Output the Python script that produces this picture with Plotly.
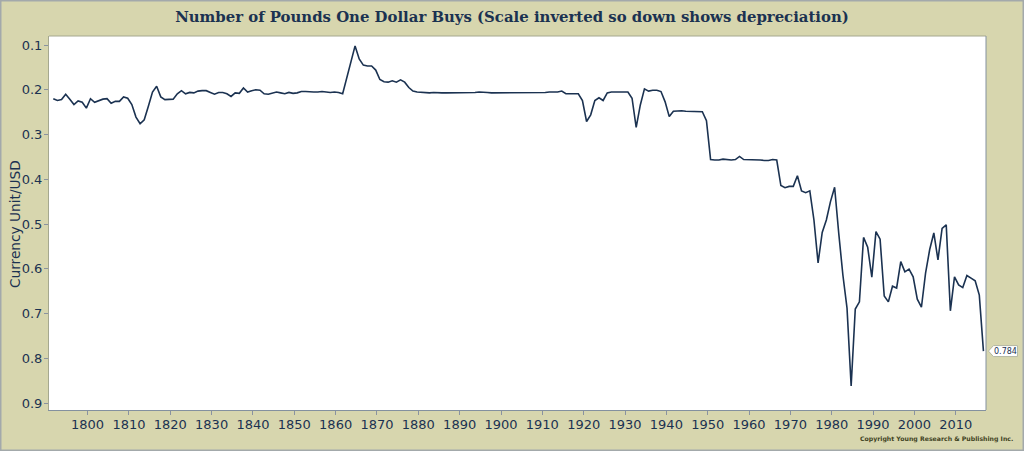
import plotly.graph_objects as go

years = list(range(1791, 2017))
values = [
    .220,.224,.222,.210,.221,.233,.225,.228,.241,
    .220,.228,.224,.221,.220,.230,.226,.226,.216,.219,.233,
    .261,.276,.267,.237,.205,.192,.216,.222,.222,.221,
    .209,.202,.209,.206,.207,.203,.202,.202,.206,.210,
    .206,.206,.209,.215,.207,.208,.196,.205,.202,.200,
    .201,.209,.210,.207,.205,.207,.209,.206,.208,.207,
    .204,.204,.205,.205,.205,.204,.205,.206,.205,.206,
    .209,.174,.137,.102,.131,.145,.147,.147,.156,.177,
    .182,.183,.180,.183,.178,.183,.195,.203,.205,.206,
    .206,.207,.206,.207,.207,.207,.207,.206,.206,.206,
    .207,.206,.206,.205,.205,.206,.207,.207,.206,.206,
    .206,.206,.207,.206,.206,.206,.206,.206,.206,.206,
    .205,.205,.205,.203,.209,.209,.209,.209,.224,.271,
    .256,.224,.218,.224,.207,.205,.205,.205,.205,.205,
    .219,.284,.234,.198,.203,.201,.201,.204,.227,.260,
    .248,.247,.247,.248,.248,.248,.248,.249,.269,
    .356,.357,.357,.355,.356,.357,.356,.349,.356,.356,
    .356,.356,.357,.358,.358,.356,.357,.414,.419,.416,.416,
    .392,.426,.430,.426,.491,.587,.519,.491,.450,.418,
    .521,.614,.688,.862,.690,.674,.530,.552,.619,.517,
    .534,.661,.674,.639,.643,.584,.607,.601,.618,.668,
    .686,.610,.557,.520,.580,.510,.502,.694,.618,.636,
    .642,.615,.621,.627,.659,.784,
]
assert len(years) == len(values), len(values)
year_offset = 0.7
x_ticks = list(range(1800, 2020, 10))
y_ticks = [0.1, 0.2, 0.3, 0.4, 0.5, 0.6, 0.7, 0.8, 0.9]
title_text = "Number of Pounds One Dollar Buys (Scale inverted so down shows depreciation)"
y_title = "Currency Unit/USD"
copyright_text = "Copyright Young Research & Publishing Inc."
NAVY = "#1b3251"
BG = "#d7d6ae"
FRAME = "#a3a9ab"
EDGE_BLUE = "#84919f"
EDGE_OLIVE = "#a5a88f"

W, H = 1024, 451
L, R, T, B = 49, 986, 36, 410
PW, PH = R - L, B - T
px = 4.134
x0 = 1800 - (87.6 - L) / px
x1 = 1800 + (R - 87.6) / px
y_top = 0.1 - (45 - T) / 447.5
y_bot = 0.1 + (B - 45) / 447.5


def fx(p):
    return (p - L) / PW


def fy(p):
    return (B - p) / PH


fig = go.Figure(go.Scatter(
    x=[y + year_offset for y in years], y=values, mode="lines",
    line=dict(color=NAVY, width=1.6), hoverinfo="skip"))

last_x = years[-1] + year_offset
last_y = values[-1]
anchor_x = (last_x - x0) / (x1 - x0)
anchor_y = (y_bot - last_y) / (y_bot - y_top)

fig.update_layout(
    width=W, height=H, autosize=False, showlegend=False,
    paper_bgcolor=BG, plot_bgcolor="white",
    margin=dict(l=L, r=W - R, t=T, b=H - B, autoexpand=False),
    font=dict(family="DejaVu Sans", color=NAVY),
    title=dict(text=f"<b>{title_text}</b>", x=0.5, xanchor="center", xref="container",
               y=1 - 17 / H, yanchor="middle",
               font=dict(family="DejaVu Serif", size=14.9, color=NAVY)),
    xaxis=dict(range=[x0, x1], tickmode="array", tickvals=x_ticks,
               ticktext=[str(t) for t in x_ticks], ticks="outside", ticklen=4,
               ticklabelstandoff=-2,
               tickcolor="#8a93a0", showgrid=False, zeroline=False, automargin=False,
               showline=True, linecolor=EDGE_BLUE, linewidth=1,
               tickfont=dict(size=13, color=NAVY)),
    yaxis=dict(range=[y_bot, y_top], tickmode="array", tickvals=y_ticks,
               ticktext=[f"{t:.1f}" for t in y_ticks], ticks="outside", ticklen=4,
               ticklabelstandoff=-1,
               tickcolor="#8a93a0", showgrid=False, zeroline=False, automargin=False,
               showline=True, linecolor=EDGE_OLIVE, linewidth=1,
               tickfont=dict(size=13, color=NAVY)),
    shapes=[
        dict(type="rect", xref="paper", yref="paper",
             x0=fx(0), x1=fx(W), y0=fy(H), y1=fy(0),
             line=dict(color=FRAME, width=3), layer="above"),
        dict(type="line", xref="paper", yref="paper", x0=0, x1=1, y0=1, y1=1,
             line=dict(color=EDGE_OLIVE, width=1)),
        dict(type="line", xref="paper", yref="paper", x0=1, x1=1, y0=0, y1=1,
             line=dict(color=EDGE_BLUE, width=1)),
        dict(type="path", xref="paper", yref="paper", xsizemode="pixel", ysizemode="pixel",
             xanchor=anchor_x, yanchor=anchor_y,
             path="M 5 0 L 10 5.5 L 34 5.5 L 34 -5.5 L 10 -5.5 Z",
             fillcolor="white", line=dict(color="#b4b7a2", width=1)),
    ],
    annotations=[
        dict(xref="paper", yref="paper", x=fx(1015), y=fy(439), xanchor="right",
             yanchor="middle", showarrow=False, text=f"<b>{copyright_text}</b>",
             font=dict(family="DejaVu Sans", size=6.2, color="#3f431f")),
        dict(xref="paper", yref="paper", x=fx(15), y=fy(224), textangle=-90,
             xanchor="center", yanchor="middle", showarrow=False, text=y_title,
             font=dict(family="DejaVu Sans", size=13.7, color=NAVY)),
        dict(xref="x", yref="y", x=last_x, y=last_y, xshift=22,
             showarrow=False, text=f"{last_y:.3f}",
             font=dict(family="DejaVu Sans", size=8, color=NAVY)),
    ],
)
fig.write_html("out.html", config=dict(displayModeBar=False),
               post_script="document.body.style.margin='0';document.body.style.background='#d7d6ae';")
